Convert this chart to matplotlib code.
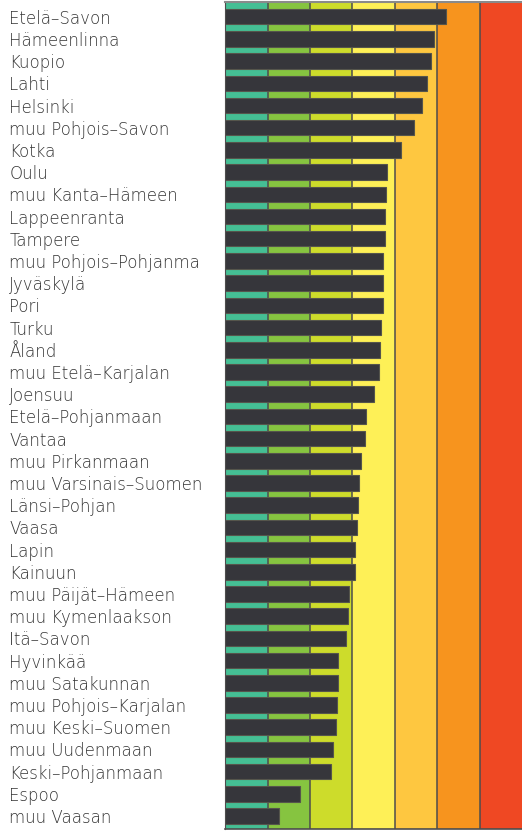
import matplotlib.pyplot as plt
import matplotlib

matplotlib.rcParams['font.family'] = ['DejaVu Sans']

# region names, top to bottom
regions = [
    "Etelä–Savon", "Hämeenlinna", "Kuopio", "Lahti", "Helsinki",
    "muu Pohjois–Savon", "Kotka", "Oulu", "muu Kanta–Hämeen", "Lappeenranta",
    "Tampere", "muu Pohjois–Pohjanma", "Jyväskylä", "Pori", "Turku",
    "Åland", "muu Etelä–Karjalan", "Joensuu", "Etelä–Pohjanmaan", "Vantaa",
    "muu Pirkanmaan", "muu Varsinais–Suomen", "Länsi–Pohjan", "Vaasa", "Lapin",
    "Kainuun", "muu Päijät–Hämeen", "muu Kymenlaakson", "Itä–Savon", "Hyvinkää",
    "muu Satakunnan", "muu Pohjois–Karjalan", "muu Keski–Suomen", "muu Uudenmaan",
    "Keski–Pohjanmaan", "Espoo", "muu Vaasan",
]

# bar lengths, in background-band units
values = [
    5.20, 4.92, 4.86, 4.77, 4.63,
    4.46, 4.14, 3.82, 3.79, 3.77,
    3.76, 3.73, 3.73, 3.71, 3.67,
    3.66, 3.62, 3.51, 3.33, 3.29,
    3.20, 3.16, 3.12, 3.11, 3.07,
    3.05, 2.92, 2.89, 2.84, 2.67,
    2.67, 2.63, 2.60, 2.53, 2.49,
    1.77, 1.26,
]

# background scale bands
band_colors = ["#45bf94", "#86c440", "#cddc2b", "#fef057", "#fec740", "#f7941e", "#ef4823"]

fig = plt.figure(figsize=(5.22, 8.32), dpi=100)
ax = fig.add_axes([225.3 / 522, 3 / 832, 296.7 / 522, 827 / 832])

for i, c in enumerate(band_colors):
    ax.axvspan(i, i + 1, color=c, lw=0, zorder=0)
for i in range(1, len(band_colors)):
    ax.axvline(i, color="#4d4d4d", lw=1.1, zorder=1)

y = list(range(len(regions)))
ax.barh(y, values, height=0.7, color="#36363b", edgecolor="#55554c",
        linewidth=0.8, zorder=2)

ax.set_xlim(0, 7)
ax.set_ylim(36.586, -0.662)

ax.set_xticks([])
ax.set_yticks(y)
ax.set_yticklabels(regions, fontsize=12, color="#333333", fontweight="light")
for lab in ax.get_yticklabels():
    lab.set_horizontalalignment("left")
ax.tick_params(axis="y", length=0, pad=155.5)

ax.spines["right"].set_visible(False)
ax.spines["top"].set_color("#8a8a8a")
ax.spines["top"].set_linewidth(1.5)
ax.spines["left"].set_color("#4d4d4d")
ax.spines["bottom"].set_color("#4d4d4d")
ax.spines["bottom"].set_linewidth(1.2)

fig.savefig("out.png", dpi=100)
